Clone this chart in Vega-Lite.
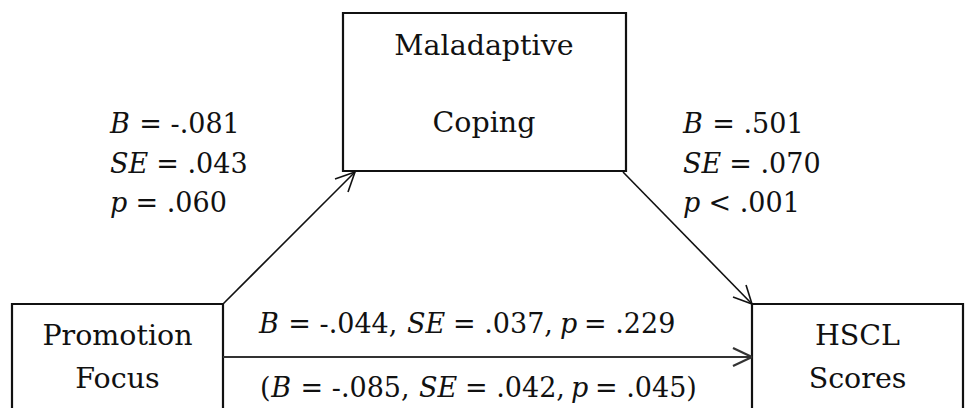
{
  "$schema": "https://vega.github.io/schema/vega-lite/v6.json",
  "width": 967,
  "height": 408,
  "padding": 0,
  "autosize": {"type": "none"},
  "background": "white",
  "config": {"view": {"stroke": null}},
  "datasets": {
    "boxes": [
      {"node": "Promotion Focus", "x": 12, "x2": 223, "y": 304, "y2": 430},
      {"node": "Maladaptive Coping", "x": 343, "x2": 626, "y": 13, "y2": 171},
      {"node": "HSCL Scores", "x": 752, "x2": 963, "y": 304, "y2": 430}
    ],
    "lines": [
      {"path": "a", "x": 223, "y": 304, "x2": 355, "y2": 172},
      {"path": "a", "x": 355, "y": 172, "x2": 335, "y2": 179},
      {"path": "a", "x": 355, "y": 172, "x2": 348, "y2": 192},
      {"path": "b", "x": 623, "y": 172, "x2": 752, "y2": 304},
      {"path": "b", "x": 752, "y": 304, "x2": 733, "y2": 297},
      {"path": "b", "x": 752, "y": 304, "x2": 746, "y2": 285},
      {"path": "c", "x": 223, "y": 357, "x2": 752, "y2": 357},
      {"path": "c", "x": 752, "y": 357, "x2": 733, "y2": 348},
      {"path": "c", "x": 752, "y": 357, "x2": 733, "y2": 366}
    ],
    "labels": [
      {"x": 117.5, "y": 345, "text": "Promotion"},
      {"x": 117.5, "y": 388, "text": "Focus"},
      {"x": 484, "y": 55, "text": "Maladaptive"},
      {"x": 484, "y": 132, "text": "Coping"},
      {"x": 857.5, "y": 345, "text": "HSCL"},
      {"x": 857.5, "y": 388, "text": "Scores"}
    ],
    "stats": [
      {"part": "italic", "x": 110, "y": 133, "text": "B"},
      {"part": "roman", "x": 139.3, "y": 133, "text": "= -.081"},
      {"part": "italic", "x": 110, "y": 173, "text": "SE"},
      {"part": "roman", "x": 156.3, "y": 173, "text": "= .043"},
      {"part": "italic", "x": 110, "y": 212, "text": "p"},
      {"part": "roman", "x": 135.5, "y": 212, "text": "= .060"},
      {"part": "italic", "x": 683, "y": 133, "text": "B"},
      {"part": "roman", "x": 712.3, "y": 133, "text": "= .501"},
      {"part": "italic", "x": 683, "y": 173, "text": "SE"},
      {"part": "roman", "x": 729.3, "y": 173, "text": "= .070"},
      {"part": "italic", "x": 683, "y": 212, "text": "p"},
      {"part": "roman", "x": 708.5, "y": 212, "text": "< .001"},
      {"part": "italic", "x": 259, "y": 333, "text": "B"},
      {"part": "roman", "x": 288.3, "y": 333, "text": "= -.044,"},
      {"part": "italic", "x": 407, "y": 333, "text": "SE"},
      {"part": "roman", "x": 453, "y": 333, "text": "= .037,"},
      {"part": "italic", "x": 560, "y": 333, "text": "p"},
      {"part": "roman", "x": 584, "y": 333, "text": "= .229"},
      {"part": "roman", "x": 260, "y": 397, "text": "("},
      {"part": "italic", "x": 271.3, "y": 397, "text": "B"},
      {"part": "roman", "x": 300.6, "y": 397, "text": "= -.085,"},
      {"part": "italic", "x": 419, "y": 397, "text": "SE"},
      {"part": "roman", "x": 465, "y": 397, "text": "= .042,"},
      {"part": "italic", "x": 571, "y": 397, "text": "p"},
      {"part": "roman", "x": 595, "y": 397, "text": "= .045)"}
    ]
  },
  "encoding": {
    "x": {"field": "x", "type": "quantitative", "scale": {"domain": [0, 967], "nice": false, "zero": false}, "axis": null},
    "y": {"field": "y", "type": "quantitative", "scale": {"domain": [0, 408], "nice": false, "zero": false, "reverse": true}, "axis": null}
  },
  "layer": [
    {
      "data": {"name": "boxes"},
      "mark": {"type": "rect", "fill": null, "fillOpacity": 0, "stroke": "#111", "strokeWidth": 2.2, "clip": true},
      "encoding": {"x2": {"field": "x2"}, "y2": {"field": "y2"}}
    },
    {
      "data": {"name": "lines"},
      "transform": [{"filter": "datum.path !== 'c'"}],
      "mark": {"type": "rule", "stroke": "#111", "strokeWidth": 1.6},
      "encoding": {"x2": {"field": "x2"}, "y2": {"field": "y2"}}
    },
    {
      "data": {"name": "lines"},
      "transform": [{"filter": "datum.path === 'c'"}],
      "mark": {"type": "rule", "stroke": "#333", "strokeWidth": 2.2},
      "encoding": {"x2": {"field": "x2"}, "y2": {"field": "y2"}}
    },
    {
      "data": {"name": "labels"},
      "mark": {"type": "text", "font": "DejaVu Serif", "fontSize": 28.5, "align": "center", "baseline": "alphabetic", "color": "#111"},
      "encoding": {"text": {"field": "text"}}
    },
    {
      "data": {"name": "stats"},
      "transform": [{"filter": "datum.part === 'italic'"}],
      "mark": {"type": "text", "font": "DejaVu Serif", "fontSize": 27, "fontStyle": "italic", "align": "left", "baseline": "alphabetic", "color": "#111"},
      "encoding": {"text": {"field": "text"}}
    },
    {
      "data": {"name": "stats"},
      "transform": [{"filter": "datum.part === 'roman'"}],
      "mark": {"type": "text", "font": "DejaVu Serif", "fontSize": 27, "align": "left", "baseline": "alphabetic", "color": "#111"},
      "encoding": {"text": {"field": "text"}}
    }
  ]
}
